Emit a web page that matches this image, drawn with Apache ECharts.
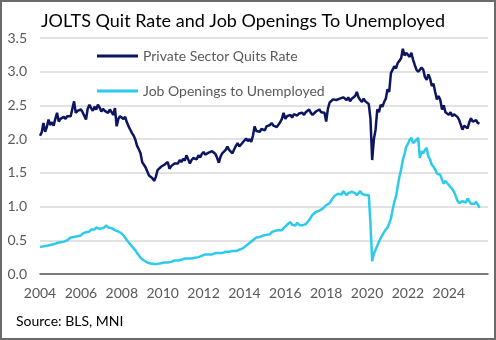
<!DOCTYPE html>
<html>
<head>
<meta charset="utf-8">
<script src="https://cdn.jsdelivr.net/npm/echarts@6/dist/echarts.min.js"></script>
<style>
html,body{margin:0;padding:0;background:#fff;}
#chart{width:496px;height:340px;}
</style>
</head>
<body>
<div id="chart"></div>
<script>
// Monthly data, Jan 2004 onward
var startYear = 2004;
var endYear = 2025;
var seriesNames = ['Private Sector Quits Rate', 'Job Openings to Unemployed'];
var xTickYears = ['2004','2006','2008','2010','2012','2014','2016','2018','2020','2022','2024'];
var yTicks = [0.0, 0.5, 1.0, 1.5, 2.0, 2.5, 3.0, 3.5];

var quitsRate = [
  2.05, 2.10, 2.24, 2.11, 2.18, 2.29, 2.21, 2.25, 2.20, 2.30, 2.39, 2.26,
  2.30, 2.28, 2.33, 2.30, 2.34, 2.36, 2.34, 2.32, 2.56, 2.39, 2.42, 2.40,
  2.44, 2.40, 2.38, 2.29, 2.45, 2.51, 2.46, 2.42, 2.48, 2.44, 2.51, 2.47,
  2.41, 2.45, 2.42, 2.40, 2.39, 2.44, 2.40, 2.36, 2.46, 2.19, 2.30, 2.34,
  2.36, 2.30, 2.33, 2.25, 2.19, 2.14, 2.09, 2.05, 1.99, 1.90, 1.85, 1.79,
  1.66, 1.62, 1.58, 1.52, 1.46, 1.45, 1.42, 1.38, 1.44, 1.54, 1.52, 1.59,
  1.57, 1.62, 1.60, 1.66, 1.56, 1.60, 1.58, 1.64, 1.62, 1.64, 1.69, 1.66,
  1.71, 1.68, 1.76, 1.70, 1.64, 1.69, 1.72, 1.74, 1.70, 1.76, 1.73, 1.78,
  1.81, 1.77, 1.76, 1.80, 1.78, 1.82, 1.84, 1.78, 1.72, 1.65, 1.74, 1.79,
  1.81, 1.84, 1.89, 1.84, 1.82, 1.79, 1.85, 1.90, 1.94, 1.89, 1.91, 1.95,
  1.98, 2.01, 1.97, 2.00, 1.96, 2.05, 2.19, 2.12, 2.14, 2.11, 2.15, 2.17,
  2.13, 2.19, 2.17, 2.21, 2.24, 2.20, 2.22, 2.18, 2.16, 2.25, 2.30, 2.39,
  2.30, 2.34, 2.33, 2.36, 2.32, 2.37, 2.39, 2.35, 2.38, 2.40, 2.39, 2.36,
  2.40, 2.42, 2.44, 2.39, 2.36, 2.38, 2.41, 2.43, 2.44, 2.40, 2.42, 2.39,
  2.26, 2.45, 2.54, 2.56, 2.59, 2.57, 2.58, 2.56, 2.60, 2.58, 2.62, 2.60,
  2.58, 2.62, 2.56, 2.60, 2.58, 2.64, 2.70, 2.62, 2.58, 2.55, 2.60, 2.56,
  2.58, 2.52, 2.30, 1.69, 2.00, 2.14, 2.44, 2.40, 2.51, 2.48, 2.55, 2.60,
  2.74, 2.70, 2.98, 3.00, 3.08, 3.05, 3.13, 3.16, 3.20, 3.34, 3.24, 3.28,
  3.26, 3.22, 3.28, 3.18, 3.10, 3.03, 3.00, 2.98, 3.06, 3.03, 2.92, 2.88,
  2.96, 2.90, 2.79, 2.82, 2.70, 2.59, 2.64, 2.58, 2.44, 2.50, 2.40, 2.38,
  2.36, 2.40, 2.34, 2.37, 2.36, 2.33, 2.29, 2.31, 2.14, 2.20, 2.19, 2.16,
  2.25, 2.31, 2.26, 2.26, 2.28, 2.24, 2.23
];

var openingsToUnemployed = [
  0.40, 0.42, 0.41, 0.43, 0.42, 0.44, 0.43, 0.45, 0.44, 0.43, 0.46, 0.45,
  0.47, 0.46, 0.48, 0.49, 0.50, 0.51, 0.54, 0.52, 0.55, 0.54, 0.56, 0.58,
  0.57, 0.60, 0.59, 0.62, 0.64, 0.63, 0.66, 0.68, 0.66, 0.69, 0.68, 0.67,
  0.69, 0.68, 0.70, 0.72, 0.69, 0.70, 0.68, 0.66, 0.65, 0.65, 0.63, 0.62,
  0.60, 0.57, 0.54, 0.50, 0.47, 0.44, 0.41, 0.38, 0.35, 0.31, 0.28, 0.24,
  0.22, 0.20, 0.18, 0.17, 0.16, 0.155, 0.15, 0.15, 0.145, 0.15, 0.155, 0.16,
  0.16, 0.17, 0.18, 0.17, 0.19, 0.18, 0.19, 0.20, 0.19, 0.20, 0.21, 0.21,
  0.22, 0.23, 0.22, 0.23, 0.24, 0.23, 0.25, 0.24, 0.26, 0.25, 0.27, 0.27,
  0.28, 0.29, 0.28, 0.29, 0.30, 0.29, 0.30, 0.31, 0.30, 0.31, 0.32, 0.31,
  0.32, 0.33, 0.32, 0.33, 0.35, 0.34, 0.35, 0.34, 0.35, 0.36, 0.37, 0.38,
  0.40, 0.42, 0.44, 0.46, 0.48, 0.50, 0.52, 0.54, 0.54, 0.55, 0.55, 0.57,
  0.56, 0.58, 0.60, 0.59, 0.62, 0.63, 0.64, 0.62, 0.65, 0.66, 0.65, 0.68,
  0.70, 0.73, 0.71, 0.77, 0.73, 0.74, 0.72, 0.76, 0.73, 0.75, 0.72, 0.74,
  0.74, 0.76, 0.80, 0.84, 0.88, 0.86, 0.92, 0.90, 0.94, 0.93, 0.97, 0.99,
  1.02, 1.00, 1.05, 1.09, 1.13, 1.16, 1.14, 1.19, 1.21, 1.18, 1.23, 1.20,
  1.17, 1.20, 1.18, 1.22, 1.23, 1.20, 1.17, 1.20, 1.23, 1.19, 1.21, 1.17,
  1.18, 1.17, 0.75, 0.19, 0.30, 0.36, 0.42, 0.48, 0.53, 0.58, 0.62, 0.66,
  0.69, 0.75, 0.82, 0.95, 1.07, 1.15, 1.30, 1.44, 1.55, 1.69, 1.78, 1.89,
  1.93, 1.99, 2.02, 1.94, 1.96, 1.99, 2.02, 1.72, 1.82, 1.79, 1.84, 1.87,
  1.74, 1.70, 1.62, 1.59, 1.55, 1.49, 1.50, 1.47, 1.40, 1.34, 1.38, 1.36,
  1.32, 1.30, 1.26, 1.22, 1.16, 1.09, 1.05, 1.04, 1.08, 1.09, 1.06, 1.12,
  1.10, 1.04, 1.02, 1.04, 1.07, 1.03, 0.98
];

// month categories Jan 2004 .. Dec 2025
var months = [];
for (var y = startYear; y <= endYear; y++) {
  for (var m = 1; m <= 12; m++) {
    months.push(y + '-' + (m < 10 ? '0' + m : m));
  }
}

var FONT = 'Lato, "Noto Sans", sans-serif';
var chart = echarts.init(document.getElementById('chart'), null, {renderer: 'canvas'});
chart.setOption({
  animation: false,
  backgroundColor: '#ffffff',
  title: {
    text: 'JOLTS Quit Rate and Job Openings To Unemployed',
    left: 41, top: 12, padding: 0,
    textStyle: {fontFamily: FONT, fontSize: 18, fontWeight: 'normal', color: '#000000'}
  },
  legend: {
    orient: 'vertical', left: 92, top: 43,
    itemWidth: 41, itemHeight: 3, itemGap: 19,
    icon: 'rect',
    data: seriesNames,
    textStyle: {fontFamily: FONT, fontSize: 14, color: '#595959', lineHeight: 16}
  },
  grid: {left: 40, right: 8, top: 38, bottom: 66, containLabel: false},
  xAxis: {
    type: 'category', data: months, boundaryGap: false,
    axisLine: {show: true, lineStyle: {color: '#595959', width: 1.5}},
    axisTick: {show: false},
    splitLine: {show: false},
    axisLabel: {
      interval: function (idx) { return idx % 24 === 0 && xTickYears.indexOf(months[idx].slice(0, 4)) >= 0; },
      formatter: function (v) { return v.slice(0, 4); },
      fontFamily: FONT, fontSize: 14, color: '#595959', margin: 12
    }
  },
  yAxis: {
    type: 'value', min: 0, max: 3.5, interval: 0.5,
    axisLine: {show: false}, axisTick: {show: false},
    splitLine: {lineStyle: {color: '#d9d9d9', width: 1.5}},
    axisLabel: {
      formatter: function (v) { return v.toFixed(1); },
      fontFamily: FONT, fontSize: 14, color: '#595959', margin: 13
    }
  },
  series: [
    {name: seriesNames[0], type: 'line', data: quitsRate, showSymbol: false, symbol: 'none',
     lineStyle: {color: '#0b1560', width: 2.5}, itemStyle: {color: '#0b1560'}},
    {name: seriesNames[1], type: 'line', data: openingsToUnemployed, showSymbol: false, symbol: 'none',
     lineStyle: {color: '#2ccbeb', width: 2.5}, itemStyle: {color: '#2ccbeb'}}
  ],
  graphic: [
    {type: 'text', left: 16, top: 314,
     style: {text: 'Source: BLS, MNI', font: '14px ' + FONT, fill: '#000000'}},
    {type: 'rect', shape: {x: 1, y: 1, width: 494, height: 338},
     style: {fill: 'none', stroke: '#6b6b6b', lineWidth: 2}, silent: true}
  ]
});
</script>
</body>
</html>
